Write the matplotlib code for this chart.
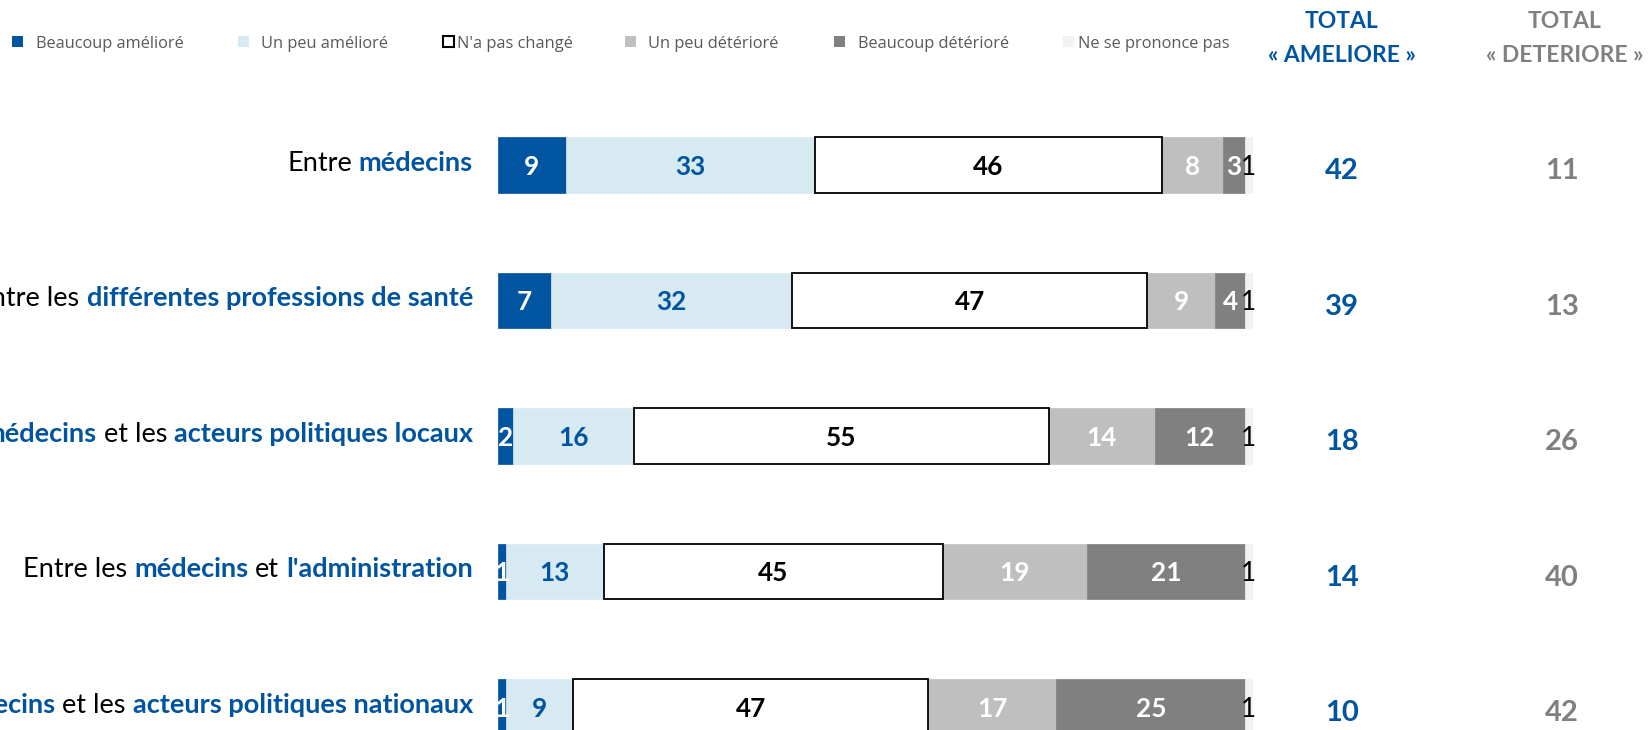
import matplotlib
matplotlib.use("Agg")
import matplotlib.pyplot as plt
from matplotlib.patches import Rectangle

# data
categories = [
    [("Entre", False), ("médecins", True)],
    [("Entre les", False), ("différentes professions de santé", True)],
    [("Entre les", False), ("médecins", True), ("et les", False), ("acteurs politiques locaux", True)],
    [("Entre les", False), ("médecins", True), ("et", False), ("l'administration", True)],
    [("Entre les", False), ("médecins", True), ("et les", False), ("acteurs politiques nationaux", True)],
]
beaucoup_ameliore = [9, 7, 2, 1, 1]
un_peu_ameliore = [33, 32, 16, 13, 9]
pas_change = [46, 47, 55, 45, 47]
un_peu_deteriore = [8, 9, 14, 19, 17]
beaucoup_deteriore = [3, 4, 12, 21, 25]
nsp = [1, 1, 1, 1, 1]
total_ameliore = [42, 39, 18, 14, 10]
total_deteriore = [11, 13, 26, 40, 42]

series_names = ["Beaucoup amélioré", "Un peu amélioré", "N'a pas changé",
                "Un peu détérioré", "Beaucoup détérioré", "Ne se prononce pas"]
series = [beaucoup_ameliore, un_peu_ameliore, pas_change,
          un_peu_deteriore, beaucoup_deteriore, nsp]

BLUE = "#0054A0"
GREY = "#808080"
fills = [BLUE, "#D7EAF2", "white", "#BFBFBF", "#808080", "#F2F2F2"]
edges = [BLUE, "#D7EAF2", "black", "#BFBFBF", "#808080", "#F2F2F2"]
label_colors = ["white", BLUE, "black", "white", "white", "black"]
label_bold = [True, True, True, True, True, False]

W, H = 1649, 730
fig = plt.figure(figsize=(W / 100, H / 100), dpi=100)

# bars: x 0..100 -> px 498..1252.7, rows every 135.45 px starting at 165
x0, x1 = 498, 1252.7
pitch = 135.45
top_px = 165 - 0.5 * pitch
bot_px = 165 + 4.5 * pitch
ax = fig.add_axes([x0 / W, (H - bot_px) / H, (x1 - x0) / W, (bot_px - top_px) / H])
ax.set_xlim(0, 100)
ax.set_ylim(4.5, -0.5)
ax.axis("off")

rows = list(range(len(categories)))
left = [0] * len(rows)
for k, vals in enumerate(series):
    ax.barh(rows, vals, left=left, height=0.41, color=fills[k], edgecolor=edges[k],
            linewidth=1.3 if k == 2 else 0.5, label=series_names[k], zorder=2 if k != 2 else 3)
    for i, v in enumerate(vals):
        ax.annotate(str(v), xy=(left[i] + v / 2, i), xytext=(0, -10), textcoords="offset pixels",
                    ha="center", va="baseline", fontsize=18.8, family="Lato",
                    fontweight="bold" if label_bold[k] else "normal",
                    color=label_colors[k], zorder=5)
    left = [a + b for a, b in zip(left, vals)]

# totals
for i in rows:
    ax.annotate(str(total_ameliore[i]), xy=(100, i), xytext=(89, -14.3), textcoords="offset pixels",
                ha="center", va="baseline", fontsize=21, family="Lato", fontweight="bold",
                color=BLUE, annotation_clip=False)
    ax.annotate(str(total_deteriore[i]), xy=(100, i), xytext=(309, -14.3), textcoords="offset pixels",
                ha="center", va="baseline", fontsize=21, family="Lato", fontweight="bold",
                color=GREY, annotation_clip=False)

# category labels, two-colour, built right to left
fig.canvas.draw()
r = fig.canvas.get_renderer()
CAT_FS = 19.5


def text_w(s, bold):
    t = fig.text(0, 0, s, fontsize=CAT_FS, family="Lato", fontweight="bold" if bold else "normal")
    w = t.get_window_extent(r).width
    t.remove()
    return w


space = text_w("x x", False) - text_w("xx", False)
for i, parts in enumerate(categories):
    dx = -25
    for s, bold in reversed(parts):
        ax.annotate(s, xy=(0, i), xytext=(dx, -5.7), textcoords="offset pixels",
                    ha="right", va="baseline", fontsize=CAT_FS, family="Lato",
                    fontweight="bold" if bold else "normal",
                    color=BLUE if bold else "black", annotation_clip=False)
        dx -= text_w(s, bold) + space

# legend drawn by hand to keep the original spacing
leg_square_x = [12, 238, 443, 625, 834, 1063]
leg_text_x = [36, 261, 457, 648, 858, 1078]
for k, name in enumerate(series_names):
    sq = Rectangle((leg_square_x[k] / W, 1 - 46.5 / H), 11 / W, 11 / H, transform=fig.transFigure,
                   facecolor=fills[k], edgecolor=edges[k], linewidth=1.5 if k == 2 else 0)
    fig.add_artist(sq)
    fig.text(leg_text_x[k] / W, 1 - 47.5 / H, name, fontsize=11.8, family="Open Sans",
             color="#595959", ha="left", va="baseline")

# column headers
HDR_FS = 16.5
fig.text(1342 / W, 1 - 28.3 / H, "TOTAL", fontsize=HDR_FS, family="Lato", fontweight="bold",
         color=BLUE, ha="center", va="baseline")
fig.text(1342 / W, 1 - 61.7 / H, "« AMELIORE »", fontsize=HDR_FS, family="Lato", fontweight="bold",
         color=BLUE, ha="center", va="baseline")
fig.text(1565 / W, 1 - 28.3 / H, "TOTAL", fontsize=HDR_FS, family="Lato", fontweight="bold",
         color=GREY, ha="center", va="baseline")
fig.text(1565 / W, 1 - 61.7 / H, "« DETERIORE »", fontsize=HDR_FS, family="Lato", fontweight="bold",
         color=GREY, ha="center", va="baseline")

fig.savefig("out.png", dpi=100)
